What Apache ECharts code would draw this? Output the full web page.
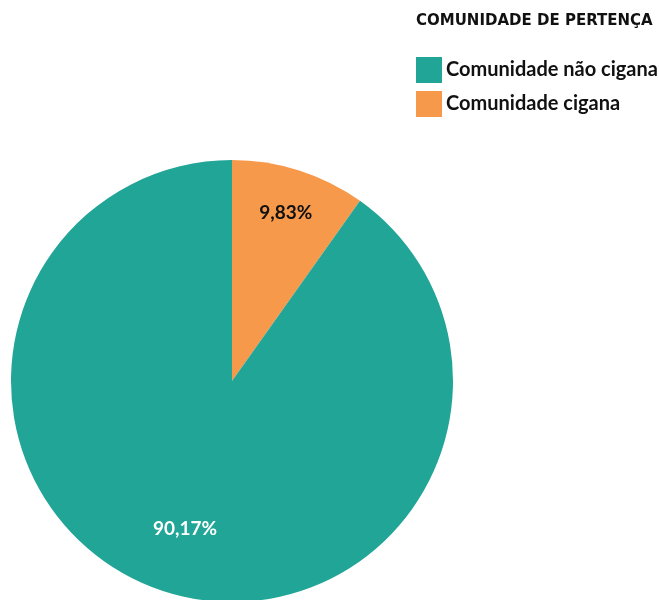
<!DOCTYPE html>
<html>
<head>
<meta charset="utf-8">
<style>
  html, body { margin: 0; padding: 0; background: #ffffff; }
  #chart { width: 659px; height: 600px; }
</style>
<script src="https://cdn.jsdelivr.net/npm/echarts@6/dist/echarts.min.js"></script>
</head>
<body>
<div id="chart"></div>
<script>
// Community of belonging: share of each group (percent)
const legendTitle = 'COMUNIDADE DE PERTENÇA';
const categories = ['Comunidade cigana', 'Comunidade não cigana'];
const values = [9.83, 90.17];
const legendOrder = ['Comunidade não cigana', 'Comunidade cigana'];
const colors = ['#F7994A', '#21A597'];
const labelColors = ['#111111', '#ffffff'];
// how far out along the radius each percentage label sits
const labelRadiusFactor = [0.80, 0.70];

const FONT = 'Lato, "Open Sans", sans-serif';
const TITLE_FONT = '"DejaVu Sans", "Open Sans", sans-serif';
const CENTER = [232, 381];
const RADIUS = 221;

const total = values.reduce((a, b) => a + b, 0);
const fmt = v => v.toFixed(2).replace('.', ',') + '%';

const chart = echarts.init(document.getElementById('chart'), null, { renderer: 'canvas' });

chart.setOption({
  backgroundColor: '#ffffff',
  animation: false,
  title: {
    text: legendTitle,
    left: 416,
    top: 14,
    padding: 0,
    textStyle: { fontFamily: TITLE_FONT, fontSize: 15, fontWeight: 'bold', color: '#111111' }
  },
  legend: {
    data: legendOrder,
    orient: 'vertical',
    left: 416,
    top: 57,
    padding: 0,
    icon: 'rect',
    itemWidth: 26,
    itemHeight: 26,
    itemGap: 8,
    textStyle: { fontFamily: FONT, fontSize: 20, fontWeight: 'bold', color: '#111111', padding: [0, 0, 0, -1] }
  },
  series: [{
    type: 'pie',
    center: CENTER,
    radius: RADIUS,
    startAngle: 90,
    clockwise: true,
    silent: true,
    itemStyle: { borderWidth: 0 },
    labelLine: { show: false },
    label: {
      show: true,
      position: 'inside',
      fontFamily: FONT,
      fontSize: 19,
      fontWeight: 'bold',
      formatter: p => fmt(p.value)
    },
    labelLayout: function (params) {
      const i = params.dataIndex;
      let before = 0;
      for (let k = 0; k < i; k++) before += values[k];
      const mid = (before + values[i] / 2) / total * Math.PI * 2;
      const r = RADIUS * labelRadiusFactor[i];
      return {
        x: CENTER[0] + r * Math.sin(mid),
        y: CENTER[1] - r * Math.cos(mid),
        align: 'center',
        verticalAlign: 'middle'
      };
    },
    data: categories.map((name, i) => ({
      name: name,
      value: values[i],
      itemStyle: { color: colors[i] },
      label: { color: labelColors[i] }
    }))
  }]
});
</script>
</body>
</html>
